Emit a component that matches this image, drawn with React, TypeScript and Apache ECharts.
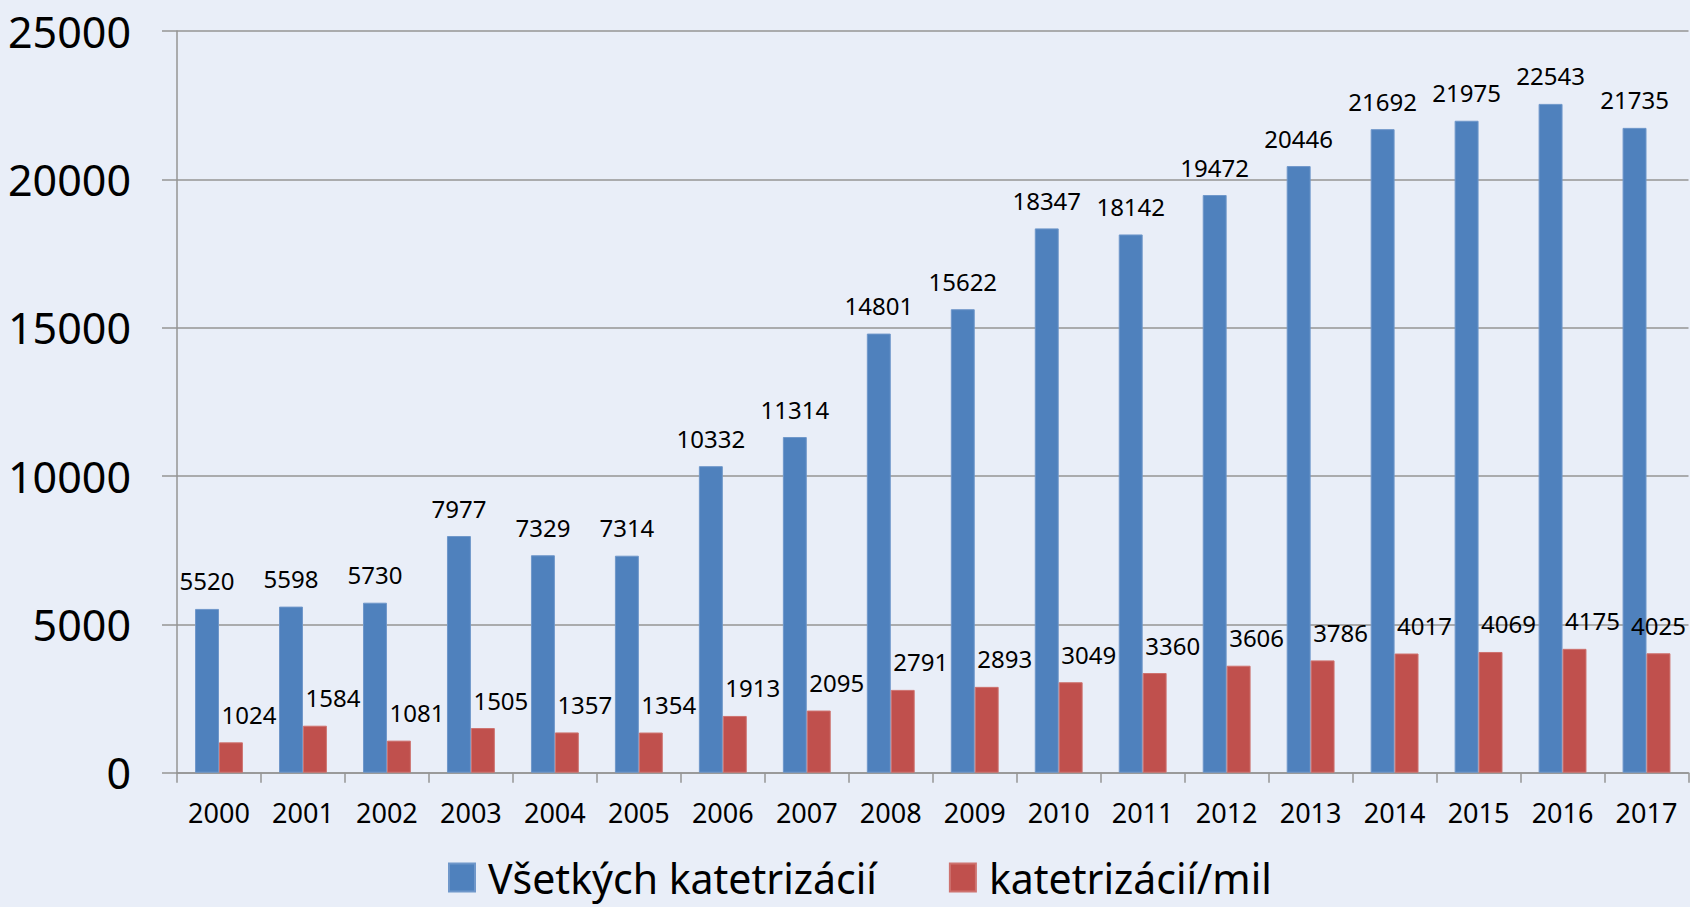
import React, { useEffect, useRef } from "react";
import * as echarts from "echarts";

const years = ["2000","2001","2002","2003","2004","2005","2006","2007","2008","2009","2010","2011","2012","2013","2014","2015","2016","2017"];
const allCath = [5520,5598,5730,7977,7329,7314,10332,11314,14801,15622,18347,18142,19472,20446,21692,21975,22543,21735];
const perMil = [1024,1584,1081,1505,1357,1354,1913,2095,2791,2893,3049,3360,3606,3786,4017,4069,4175,4025];
const seriesNames = ["Všetkých katetrizácií", "katetrizácií/mil"];

const FONT = "Noto Sans";
const GRAY = "#949494";

export default function App() {
  const ref = useRef<HTMLDivElement>(null);
  useEffect(() => {
    if (!ref.current) return;
    const chart = echarts.init(ref.current, null, { renderer: "svg" });
    const last = perMil.length - 1;
    chart.setOption({
      animation: false,
      backgroundColor: "#E9EEF8",
      textStyle: { fontFamily: FONT, color: "#000" },
      grid: { left: 177, right: 1.5, top: 31, bottom: 134.3, containLabel: false, outerBoundsMode: "none" },
      legend: {
        left: 448,
        top: 857,
        padding: 0,
        itemWidth: 26,
        itemHeight: 28,
        itemGap: 72,
        icon: "rect",
        textStyle: { fontSize: 41, lineHeight: 40, fontFamily: FONT, color: "#000", padding: [0, 0, 0, 8] },
        data: seriesNames,
      },
      xAxis: {
        type: "category",
        data: years,
        axisLine: { lineStyle: { color: GRAY, width: 1.5 } },
        axisTick: { show: true, length: 10, lineStyle: { color: GRAY, width: 1.5 } },
        axisLabel: { fontSize: 27, color: "#000", margin: 26, fontFamily: FONT, interval: 0 },
      },
      yAxis: {
        type: "value",
        min: 0,
        max: 25000,
        interval: 5000,
        axisLine: { show: true, lineStyle: { color: GRAY, width: 1.5 } },
        axisTick: { show: true, length: 15, lineStyle: { color: GRAY, width: 1.5 } },
        splitLine: { lineStyle: { color: GRAY, width: 1.5 } },
        axisLabel: { fontSize: 43, color: "#000", margin: 46, fontFamily: FONT, formatter: (v: number) => String(v) },
      },
      series: [
        {
          name: seriesNames[0],
          type: "bar",
          data: allCath,
          barGap: "0%",
          barCategoryGap: "43%",
          itemStyle: { color: "#4F81BD", borderColor: "#6F97CA", borderWidth: 1 },
          label: { show: true, position: "top", distance: 16, fontSize: 24, color: "#000", fontFamily: FONT },
        },
        {
          name: seriesNames[1],
          type: "bar",
          data: perMil.map((v, i) => (i === last ? { value: v, label: { offset: [0, 0] } } : v)),
          barGap: "0%",
          barCategoryGap: "43%",
          itemStyle: { color: "#C0504D", borderColor: "#CE726F", borderWidth: 1 },
          label: { show: true, position: "top", distance: 16, offset: [18, 0], fontSize: 24, color: "#000", fontFamily: FONT },
        },
      ],
    });
    return () => chart.dispose();
  }, []);
  return <div ref={ref} style={{ position: "fixed", left: 0, top: 0, width: 1690, height: 907 }} />;
}
